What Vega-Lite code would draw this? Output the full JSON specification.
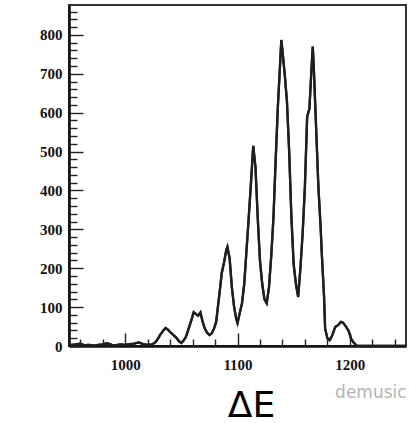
{
  "$schema": "https://vega.github.io/schema/vega-lite/v6.json",
  "width": 337,
  "height": 341,
  "autosize": "none",
  "padding": {"left": 69, "top": 5, "right": 3, "bottom": 77},
  "background": "white",
  "title": {
    "text": "demusic",
    "orient": "bottom",
    "anchor": "end",
    "offset": -38,
    "dx": -4,
    "font": "DejaVu Sans",
    "fontSize": 17,
    "fontWeight": "normal",
    "color": "#b4b4b4"
  },
  "data": {
    "values": [
      {"dE": 950, "n": 0}, {"dE": 952, "n": 3}, {"dE": 956, "n": 4}, {"dE": 960, "n": 6},
      {"dE": 964, "n": 2}, {"dE": 968, "n": 3}, {"dE": 972, "n": 1}, {"dE": 976, "n": 3},
      {"dE": 980, "n": 4}, {"dE": 984, "n": 7}, {"dE": 988, "n": 3}, {"dE": 992, "n": 2},
      {"dE": 996, "n": 4}, {"dE": 1000, "n": 3}, {"dE": 1004, "n": 5}, {"dE": 1008, "n": 6},
      {"dE": 1012, "n": 9}, {"dE": 1016, "n": 5}, {"dE": 1020, "n": 3}, {"dE": 1024, "n": 4},
      {"dE": 1027, "n": 10}, {"dE": 1029, "n": 18}, {"dE": 1031, "n": 28}, {"dE": 1034, "n": 40},
      {"dE": 1036, "n": 46}, {"dE": 1038, "n": 42}, {"dE": 1040, "n": 36}, {"dE": 1043, "n": 28},
      {"dE": 1045, "n": 23}, {"dE": 1048, "n": 12}, {"dE": 1050, "n": 8}, {"dE": 1052, "n": 14},
      {"dE": 1054, "n": 23}, {"dE": 1056, "n": 40}, {"dE": 1059, "n": 67}, {"dE": 1061, "n": 87},
      {"dE": 1063, "n": 82}, {"dE": 1065, "n": 78}, {"dE": 1067, "n": 86}, {"dE": 1069, "n": 62},
      {"dE": 1071, "n": 44}, {"dE": 1073, "n": 34}, {"dE": 1075, "n": 28}, {"dE": 1077, "n": 32},
      {"dE": 1079, "n": 44}, {"dE": 1081, "n": 62}, {"dE": 1084, "n": 136}, {"dE": 1086, "n": 188},
      {"dE": 1088, "n": 215}, {"dE": 1090, "n": 247}, {"dE": 1091, "n": 255}, {"dE": 1093, "n": 225},
      {"dE": 1095, "n": 150}, {"dE": 1097, "n": 100}, {"dE": 1099, "n": 68}, {"dE": 1100, "n": 59},
      {"dE": 1102, "n": 85}, {"dE": 1104, "n": 110}, {"dE": 1106, "n": 160}, {"dE": 1108, "n": 245},
      {"dE": 1110, "n": 330}, {"dE": 1112, "n": 420}, {"dE": 1114, "n": 515}, {"dE": 1116, "n": 460},
      {"dE": 1118, "n": 330}, {"dE": 1120, "n": 220}, {"dE": 1122, "n": 160}, {"dE": 1124, "n": 120},
      {"dE": 1126, "n": 110}, {"dE": 1128, "n": 150}, {"dE": 1130, "n": 230}, {"dE": 1132, "n": 330},
      {"dE": 1134, "n": 480}, {"dE": 1136, "n": 620}, {"dE": 1138, "n": 730}, {"dE": 1139, "n": 787},
      {"dE": 1140, "n": 760}, {"dE": 1142, "n": 700}, {"dE": 1144, "n": 630}, {"dE": 1146, "n": 500},
      {"dE": 1148, "n": 330}, {"dE": 1150, "n": 210}, {"dE": 1152, "n": 160}, {"dE": 1154, "n": 126},
      {"dE": 1156, "n": 200}, {"dE": 1158, "n": 290}, {"dE": 1160, "n": 410}, {"dE": 1162, "n": 590},
      {"dE": 1164, "n": 610}, {"dE": 1166, "n": 720}, {"dE": 1167, "n": 770}, {"dE": 1168, "n": 710},
      {"dE": 1170, "n": 560}, {"dE": 1172, "n": 410}, {"dE": 1174, "n": 306}, {"dE": 1175, "n": 240},
      {"dE": 1177, "n": 130}, {"dE": 1178, "n": 45}, {"dE": 1180, "n": 20}, {"dE": 1182, "n": 15},
      {"dE": 1184, "n": 25}, {"dE": 1187, "n": 49}, {"dE": 1190, "n": 55}, {"dE": 1192, "n": 62},
      {"dE": 1194, "n": 60}, {"dE": 1197, "n": 48}, {"dE": 1199, "n": 38}, {"dE": 1201, "n": 20},
      {"dE": 1203, "n": 10}, {"dE": 1206, "n": 1}, {"dE": 1210, "n": 0}, {"dE": 1250, "n": 0}
    ]
  },
  "layer": [
    {
      "mark": {"type": "line", "color": "#1e1e1e", "strokeWidth": 2.3, "interpolate": "linear"},
      "encoding": {
        "x": {
          "field": "dE",
          "type": "quantitative",
          "scale": {"domain": [950, 1250], "nice": false, "zero": false},
          "axis": {
            "orient": "bottom",
            "title": "ΔE",
            "titleFont": "DejaVu Sans",
            "titleFontSize": 36,
            "titleFontWeight": "normal",
            "titleColor": "#000",
            "titleX": 182,
            "titleY": 70,
            "titleBaseline": "alphabetic",
            "titleAlign": "center",
            "values": [1000, 1100, 1200],
            "format": "d",
            "tickSize": -13,
            "tickColor": "#222",
            "tickWidth": 1.4,
            "labelPadding": 24,
            "grid": false
          }
        },
        "y": {
          "field": "n",
          "type": "quantitative",
          "scale": {"domain": [0, 877], "nice": false},
          "axis": {
            "orient": "left",
            "title": null,
            "values": [0, 100, 200, 300, 400, 500, 600, 700, 800],
            "format": "d",
            "tickSize": -14,
            "tickColor": "#222",
            "tickWidth": 1.4,
            "labelPadding": 21,
            "grid": false
          }
        }
      }
    },
    {
      "mark": {"type": "line", "color": "#1e1e1e", "strokeWidth": 2.3, "interpolate": "linear"},
      "encoding": {
        "x": {
          "field": "dE",
          "type": "quantitative",
          "axis": {
            "orient": "bottom",
            "title": null,
            "labels": false,
            "domain": false,
            "values": [960, 980, 1020, 1040, 1060, 1080, 1120, 1140, 1160, 1180, 1220, 1240],
            "tickSize": -7,
            "tickColor": "#222",
            "tickWidth": 1.4,
            "grid": false
          }
        },
        "y": {
          "field": "n",
          "type": "quantitative",
          "axis": {
            "orient": "left",
            "title": null,
            "labels": false,
            "domain": false,
            "values": [20, 40, 60, 80, 120, 140, 160, 180, 220, 240, 260, 280, 320, 340, 360, 380, 420, 440, 460, 480, 520, 540, 560, 580, 620, 640, 660, 680, 720, 740, 760, 780, 820, 840, 860],
            "tickSize": -8,
            "tickColor": "#222",
            "tickWidth": 1.4,
            "grid": false
          }
        }
      }
    }
  ],
  "resolve": {"axis": {"x": "independent", "y": "independent"}},
  "config": {
    "view": {"stroke": "#333", "strokeWidth": 2},
    "axis": {
      "domainColor": "#111",
      "domainWidth": 2.6,
      "labelFont": "Liberation Serif",
      "labelFontSize": 15,
      "labelFontWeight": "bold",
      "labelColor": "#111"
    }
  }
}
